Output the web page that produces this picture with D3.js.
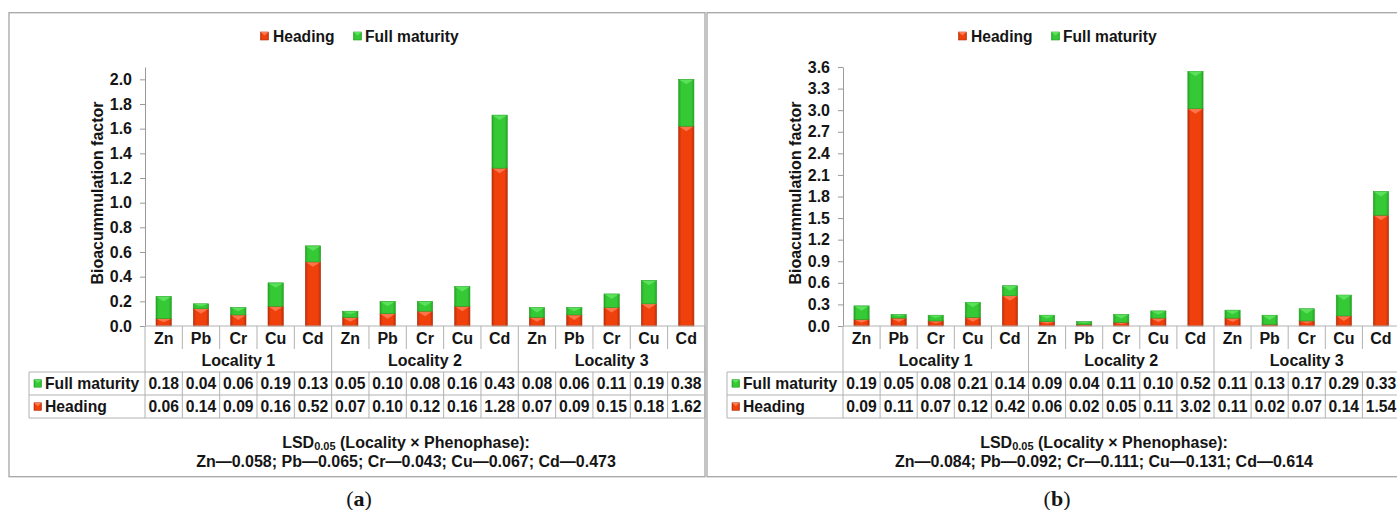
<!DOCTYPE html>
<html><head><meta charset="utf-8">
<script src="https://cdn.jsdelivr.net/npm/d3@7"></script>
<style>
body{margin:0;background:#fff;}
svg text{font-family:"Liberation Sans",Arial,sans-serif;font-weight:bold;fill:#151515;}
</style></head><body>
<svg id="c" width="1397" height="510"></svg>
<script>
// ---------- data ----------
const metals = ["Zn","Pb","Cr","Cu","Cd"];
const localities = ["Locality 1","Locality 2","Locality 3"];
const seriesNames = ["Heading","Full maturity"];

const headingA = [0.06,0.14,0.09,0.16,0.52, 0.07,0.10,0.12,0.16,1.28, 0.07,0.09,0.15,0.18,1.62];
const fullA    = [0.18,0.04,0.06,0.19,0.13, 0.05,0.10,0.08,0.16,0.43, 0.08,0.06,0.11,0.19,0.38];
const headingB = [0.09,0.11,0.07,0.12,0.42, 0.06,0.02,0.05,0.11,3.02, 0.11,0.02,0.07,0.14,1.54];
const fullB    = [0.19,0.05,0.08,0.21,0.14, 0.09,0.04,0.11,0.10,0.52, 0.11,0.13,0.17,0.29,0.33];

const ticksA = [0.0,0.2,0.4,0.6,0.8,1.0,1.2,1.4,1.6,1.8,2.0];
const ticksB = [0.0,0.3,0.6,0.9,1.2,1.5,1.8,2.1,2.4,2.7,3.0,3.3,3.6];

const lsdA = "Zn\u20140.058; Pb\u20140.065; Cr\u20140.043; Cu\u20140.067; Cd\u20140.473";
const lsdB = "Zn\u20140.084; Pb\u20140.092; Cr\u20140.111; Cu\u20140.131; Cd\u20140.614";

// ---------- drawing ----------
const svg = d3.select("#c");
const defs = svg.append("defs");
function grad(id, edge, mid){
  const g = defs.append("linearGradient").attr("id", id).attr("x1",0).attr("x2",1).attr("y1",0).attr("y2",0);
  g.append("stop").attr("offset","0").attr("stop-color",edge);
  g.append("stop").attr("offset","0.18").attr("stop-color",mid);
  g.append("stop").attr("offset","0.82").attr("stop-color",mid);
  g.append("stop").attr("offset","1").attr("stop-color",edge);
}
grad("gRed", "#b8300a", "#f0400c");
grad("gGreen", "#24a524", "#36c936");
const style = {
  Heading: {fill:"url(#gRed)", chev:"#ff7b52", stroke:"#b3300c"},
  Full:    {fill:"url(#gGreen)", chev:"#5ee25e", stroke:"#23a023"}
};
const gridCol = "#b2b2b2";

function marker(g, x, y, s, key){
  const st = style[key];
  g.append("rect").attr("x",x).attr("y",y).attr("width",s).attr("height",s)
    .attr("fill",st.fill).attr("stroke",st.stroke).attr("stroke-width",0.6);
  g.append("path").attr("d",`M${x},${y}L${x+s},${y}L${x+s/2},${y+s*0.45}Z`).attr("fill",st.chev);
}

function drawPanel(ox, heading, full, ticks, yMax, lsd, tag, catW){
  const g = svg.append("g").attr("transform",`translate(${ox},0)`);
  // frame
  g.append("rect").attr("x",9).attr("y",12.7).attr("width",696).attr("height",464)
    .attr("fill","none").attr("stroke","#a6a6a6").attr("stroke-width",1.3);

  const axisX = 145, nCat = metals.length*localities.length;
  const cats = d3.range(nCat);
  const x = d3.scaleBand().domain(cats).range([axisX, axisX + catW*nCat]).padding(0);
  const y = d3.scaleLinear().domain([0,yMax]).range([326, 67]);
  const barW = x.bandwidth()*0.41;

  // legend
  const lg = g.append("g");
  marker(lg, 260.5, 32, 8, "Heading");
  lg.append("text").attr("x",273).attr("y",36).attr("dominant-baseline","central")
    .style("font-size","15.6px").text(seriesNames[0]);
  marker(lg, 353.5, 32, 8, "Full");
  lg.append("text").attr("x",365).attr("y",36).attr("dominant-baseline","central")
    .style("font-size","15.6px").text(seriesNames[1]);

  // y axis
  const ax = g.append("g").attr("transform",`translate(${axisX},0)`)
    .call(d3.axisLeft(y).tickValues(ticks).tickSize(5).tickSizeOuter(0).tickPadding(8).tickFormat(d3.format(".1f")));
  ax.selectAll("path,line").attr("stroke","#9a9a9a");
  ax.selectAll("text").style("font-size","16px").attr("fill","#151515")
    .style("font-family",'"Liberation Sans",Arial,sans-serif').style("font-weight","bold");
  g.append("text").attr("transform",`translate(97,193) rotate(-90)`).attr("text-anchor","middle")
    .attr("dominant-baseline","central").style("font-size","16px").text("Bioacummulation factor");

  // bars (stacked)
  const rows = cats.map(i => ({i, Heading: heading[i], Full: full[i]}));
  const stacked = d3.stack().keys(["Heading","Full"])(rows);
  stacked.forEach(layer => {
    const st = style[layer.key];
    const lgq = g.append("g");
    layer.forEach(d => {
      const x0 = x(d.data.i) + (x.bandwidth()-barW)/2;
      const top = y(d[1]), h = y(d[0]) - y(d[1]);
      lgq.append("rect").attr("x",x0).attr("y",top).attr("width",barW).attr("height",h)
        .attr("fill",st.fill).attr("stroke",st.stroke).attr("stroke-width",0.6);
      const ch = Math.min(5, h*0.5);
      lgq.append("path").attr("d",`M${x0+0.5},${top+0.3}L${x0+barW-0.5},${top+0.3}L${x0+barW/2},${top+ch}Z`)
        .attr("fill",st.chev).attr("opacity",0.9);
    });
  });

  // category axis / table
  const right = axisX + catW*nCat;
  const tg = g.append("g").attr("stroke",gridCol).attr("stroke-width",1);
  tg.append("line").attr("x1",axisX).attr("x2",right).attr("y1",326).attr("y2",326);
  cats.forEach(i => {
    if (i % metals.length !== 0) {
      tg.append("line").attr("x1",x(i)).attr("x2",x(i)).attr("y1",326).attr("y2",349);
    }
  });
  d3.range(localities.length+1).forEach(k => {
    const xx = axisX + k*metals.length*catW;
    tg.append("line").attr("x1",xx).attr("x2",xx).attr("y1",326).attr("y2",418);
  });
  // table rows
  const tLeft = 29;
  [372, 395, 418].forEach(yy => tg.append("line").attr("x1",tLeft).attr("x2",right).attr("y1",yy).attr("y2",yy));
  tg.append("line").attr("x1",tLeft).attr("x2",tLeft).attr("y1",372).attr("y2",418);
  cats.forEach(i => {
    if (i % metals.length !== 0) tg.append("line").attr("x1",x(i)).attr("x2",x(i)).attr("y1",372).attr("y2",418);
  });

  // category labels
  g.append("g").selectAll("text").data(cats).join("text")
    .attr("x", i => x(i)+x.bandwidth()/2).attr("y",338).attr("text-anchor","middle")
    .attr("dominant-baseline","central").style("font-size","16px")
    .text(i => metals[i % metals.length]);
  g.append("g").selectAll("text").data(localities).join("text")
    .attr("x",(d,k)=> axisX + (k+0.5)*metals.length*catW).attr("y",360).attr("text-anchor","middle")
    .attr("dominant-baseline","central").style("font-size","16px").text(d=>d);

  // table contents
  const tableRows = [{key:"Full", name:seriesNames[1], vals:full, yc:383.5},
                     {key:"Heading", name:seriesNames[0], vals:heading, yc:406.6}];
  tableRows.forEach(r => {
    marker(g, 34, r.yc-3.8, 7.5, r.key);
    g.append("text").attr("x",45).attr("y",r.yc).attr("dominant-baseline","central")
      .style("font-size","15.7px").text(r.name);
    g.append("g").selectAll("text").data(r.vals).join("text")
      .attr("x",(v,i)=> x(i)+x.bandwidth()/2).attr("y",r.yc).attr("text-anchor","middle")
      .attr("dominant-baseline","central").style("font-size","15.7px").text(v=>d3.format(".2f")(v));
  });

  // LSD note
  const t1 = g.append("text").attr("x",406).attr("y",442).attr("text-anchor","middle")
    .attr("dominant-baseline","central").style("font-size","16px");
  t1.append("tspan").text("LSD");
  t1.append("tspan").attr("dy",4).style("font-size","11px").text("0.05");
  t1.append("tspan").attr("dy",-4).text(" (Locality \u00d7 Phenophase):");
  g.append("text").attr("x",406).attr("y",461.5).attr("text-anchor","middle")
    .attr("dominant-baseline","central").style("font-size","16px").text(lsd);

  // panel tag
  const pt = g.append("text").attr("x",359).attr("y",498).attr("text-anchor","middle")
    .attr("dominant-baseline","central")
    .style("font-family",'"Liberation Serif","DejaVu Serif",serif').style("font-weight","normal").style("font-size","22px");
  pt.append("tspan").text("(");
  pt.append("tspan").style("font-weight","bold").text(tag);
  pt.append("tspan").text(")");
}

drawPanel(0, headingA, fullA, ticksA, 2.1, lsdA, "a", 37.33);
drawPanel(698, headingB, fullB, ticksB, 3.6, lsdB, "b", 37.1);
</script>
</body></html>
